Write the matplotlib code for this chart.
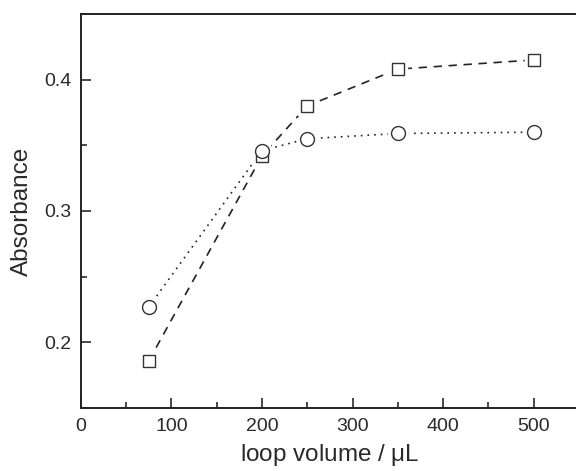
import matplotlib
matplotlib.use("Agg")
import matplotlib.pyplot as plt
from matplotlib.ticker import MultipleLocator

plt.rcParams['font.family'] = ['Liberation Sans', 'DejaVu Sans']
plt.rcParams['mathtext.fontset'] = 'custom'
plt.rcParams['mathtext.rm'] = 'Liberation Sans'
plt.rcParams['mathtext.it'] = 'Liberation Sans:italic'

loop_volume = [75, 200, 250, 350, 500]
abs_square = [0.186, 0.342, 0.380, 0.408, 0.415]
abs_circle = [0.227, 0.346, 0.355, 0.359, 0.360]

fig = plt.figure(figsize=(5.76, 4.71), dpi=100)
ax = fig.add_axes([0.1406, 0.1338, 0.8642, 0.8365])

lc = '#222222'
ec = '#333333'
# lines
ax.plot(loop_volume, abs_square, linestyle=(0, (5, 4)), color=lc, lw=1.2, zorder=2)
ax.plot(loop_volume, abs_circle, linestyle=(0, (1, 3)), color=lc, lw=1.2, zorder=2)
# white halos to leave a small gap between line and marker
ax.plot(loop_volume, abs_square, linestyle='none', marker='s', markersize=13,
        markerfacecolor='white', markeredgecolor='white', zorder=3)
ax.plot(loop_volume, abs_circle, linestyle='none', marker='o', markersize=14,
        markerfacecolor='white', markeredgecolor='white', zorder=3)
# markers (circles drawn above squares)
ax.plot(loop_volume, abs_square, linestyle='none', marker='s', markersize=9,
        markerfacecolor='white', markeredgecolor=ec, markeredgewidth=1.0, zorder=4)
ax.plot(loop_volume, abs_circle, linestyle='none', marker='o', markersize=10,
        markerfacecolor='white', markeredgecolor=ec, markeredgewidth=1.0, zorder=5)

ax.set_xlim(0, 550)
ax.set_ylim(0.15, 0.45)
ax.xaxis.set_major_locator(MultipleLocator(100))
ax.xaxis.set_minor_locator(MultipleLocator(50))
ax.yaxis.set_minor_locator(MultipleLocator(0.05))
ax.set_yticks([0.2, 0.3, 0.4])
ax.set_yticklabels(['0.2', '0.3', '0.4'])

tc = '#2a2a2a'
ax.tick_params(which='major', direction='in', length=7, width=1.2, labelsize=14,
               colors=tc, pad=7)
ax.tick_params(which='minor', direction='in', length=4, width=1.2, colors=tc)
ax.tick_params(top=False, right=False)
for s in ['left', 'bottom', 'top']:
    ax.spines[s].set_linewidth(1.4)
    ax.spines[s].set_color('#222222')
ax.spines['right'].set_visible(False)

ax.set_xlabel(r'loop volume / $\mathrm{\mu}$L', fontsize=17.5, labelpad=5, color=tc)
ax.set_ylabel('Absorbance', fontsize=17.5, labelpad=8, color=tc)

fig.savefig('out.png', dpi=100)
